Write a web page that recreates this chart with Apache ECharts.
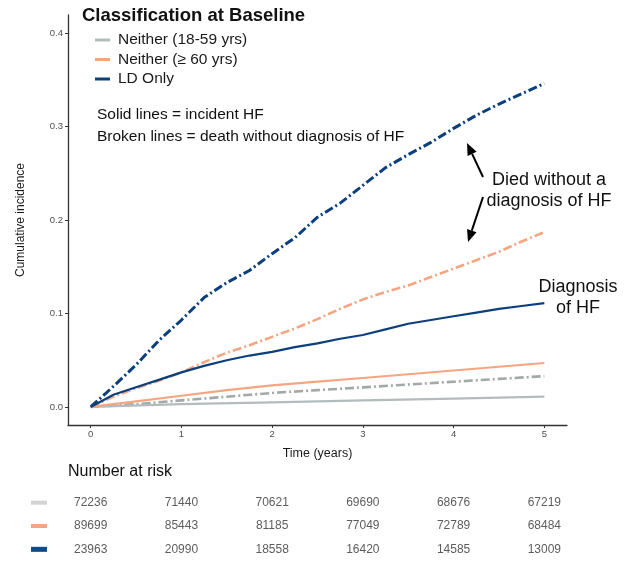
<!DOCTYPE html>
<html>
<head>
<meta charset="utf-8">
<script src="https://cdn.jsdelivr.net/npm/echarts@6/dist/echarts.min.js"></script>
<style>html,body{margin:0;padding:0;background:#fff}#c{width:626px;height:561px}</style>
</head>
<body>
<div id="c"></div>
<script>
// ---------- data ----------
const groups = ['Neither (18-59 yrs)', 'Neither (\u2265 60 yrs)', 'LD Only'];
const xTicks = [0, 1, 2, 3, 4, 5];
const yTicks = [0.0, 0.1, 0.2, 0.3, 0.4];

const tQuarter = [0,0.25,0.5,0.75,1,1.25,1.5,1.75,2,2.25,2.5,2.75,3,3.25,3.5,3.75,4,4.25,4.5,4.75,5];
const tHalf = [0,0.5,1,1.5,2,2.5,3,3.5,4,4.5,5];
const tYear = [0,1,2,3,4,5];

// LD Only
const ldDeath = [0,0.022,0.045,0.071,0.093,0.117,0.133,0.146,0.164,0.181,0.203,0.218,0.237,0.256,0.270,0.283,0.298,0.312,0.324,0.335,0.346];
const ldHF    = [0,0.013,0.021,0.029,0.037,0.044,0.050,0.055,0.059,0.064,0.068,0.073,0.077,0.083,0.089,0.093,0.097,0.101,0.105,0.108,0.111];
// Neither (>= 60 yrs)
const oldDeath = [0,0.011,0.020,0.028,0.037,0.048,0.058,0.066,0.075,0.084,0.094,0.105,0.115,0.123,0.130,0.139,0.148,0.157,0.166,0.177,0.187];
const oldHF    = [0,0.006,0.012,0.018,0.023,0.027,0.031,0.035,0.039,0.043,0.047];
// Neither (18-59 yrs)
const youngDeath = [0,0.003,0.007,0.011,0.015,0.018,0.021,0.024,0.027,0.030,0.033];
const youngHF    = [0,0.003,0.005,0.007,0.009,0.011];

// number at risk
const riskYoung = [72236,71440,70621,69690,68676,67219];
const riskOld   = [89699,85443,81185,77049,72789,68484];
const riskLD    = [23963,20990,18558,16420,14585,13009];

// ---------- styles ----------
const cGrayLine = '#b3bcbc', cGrayDash = '#a3a8a8', cSalmon = '#f4a582', cNavy = '#0c3f7e';
const swatch = ['#d3d3d3', '#f4a582', '#0b4a8c'];
const brokenType = [9, 3, 2, 3];
const font = 'Liberation Sans, Arial, sans-serif';

function pairs(t, v){ return t.map((x,i)=>[x, v[i]]); }

function arrow(x1,y1,x2,y2){
  const a = Math.atan2(y2-y1, x2-x1), L = 12, W = 5;
  const bx = x2 - L*Math.cos(a), by = y2 - L*Math.sin(a);
  const nx = -Math.sin(a), ny = Math.cos(a);
  return [
    {type:'line', shape:{x1:x1,y1:y1,x2:bx,y2:by}, style:{stroke:'#000', lineWidth:2}},
    {type:'polygon', shape:{points:[[x2,y2],[bx+W*nx,by+W*ny],[bx-W*nx,by-W*ny]]}, style:{fill:'#000'}}
  ];
}

const riskData = [];
[riskYoung, riskOld, riskLD].forEach((row, r) => row.forEach((v, i) => riskData.push([xTicks[i], r, v])));

function lineSeries(name, data, color, broken, width){
  return {
    name, type:'line', data, showSymbol:false, symbol:'none', smooth:false,
    xAxisIndex:0, yAxisIndex:0, z: broken ? 3 : 4,
    itemStyle:{color},
    lineStyle:{color, width, type: broken ? brokenType : 'solid', cap:'butt'},
    emphasis:{disabled:true}, animation:false
  };
}

const chart = echarts.init(document.getElementById('c'), null, {renderer:'canvas'});
chart.setOption({
  animation:false,
  backgroundColor:'#fff',
  textStyle:{fontFamily:font},
  grid:[
    {left:68, right:59, top:15, bottom:136},
    {left:68, right:59, top:491, height:71}
  ],
  xAxis:[
    {gridIndex:0, type:'value', min:-0.25, max:5.25,
     name:'Time (years)', nameLocation:'middle', nameGap:22,
     nameTextStyle:{fontSize:12.5, color:'#1a1a1a', fontFamily:font},
     axisLine:{onZero:false, lineStyle:{color:'#333', width:1.3}},
     axisTick:{customValues:xTicks, length:3, lineStyle:{color:'#333'}},
     axisLabel:{customValues:xTicks, fontSize:9.5, color:'#4d4d4d', margin:4, fontFamily:font},
     splitLine:{show:false}},
    {gridIndex:1, type:'value', min:-0.25, max:5.25, show:false}
  ],
  yAxis:[
    {gridIndex:0, type:'value', min:-0.0193, max:0.4193,
     name:'Cumulative incidence', nameLocation:'middle', nameGap:41,
     nameTextStyle:{fontSize:12, color:'#1a1a1a', fontFamily:font},
     axisLine:{show:true, onZero:false, lineStyle:{color:'#333', width:1.3}},
     axisTick:{show:true, customValues:yTicks, length:3, lineStyle:{color:'#333'}},
     axisLabel:{customValues:yTicks, fontSize:9.5, color:'#4d4d4d', margin:5, fontFamily:font,
       formatter:v=>v.toFixed(1)},
     splitLine:{show:false}},
    {gridIndex:1, type:'category', data:groups, inverse:true,
     axisLine:{show:false}, axisTick:{show:false}, splitLine:{show:false},
     axisLabel:{margin:21, formatter:(v,i)=>'{s'+i+'|}',
       rich:{
         s0:{backgroundColor:swatch[0], width:16, height:4},
         s1:{backgroundColor:swatch[1], width:16, height:4},
         s2:{backgroundColor:swatch[2], width:16, height:5}
       }}}
  ],
  legend:{
    orient:'vertical', left:95, top:32, padding:0, itemGap:3.5,
    itemWidth:15, itemHeight:3, selectedMode:false,
    textStyle:{fontSize:15.5, color:'#1a1a1a', lineHeight:16, fontFamily:font, padding:[0,0,0,3]},
    data:[
      {name:groups[0], icon:'rect', itemStyle:{color:cGrayLine}},
      {name:groups[1], icon:'rect', itemStyle:{color:cSalmon}},
      {name:groups[2], icon:'rect', itemStyle:{color:cNavy}}
    ]
  },
  series:[
    lineSeries(groups[0], pairs(tYear, youngHF), cGrayLine, false, 2.2),
    lineSeries(groups[1], pairs(tHalf, oldHF), cSalmon, false, 2.2),
    lineSeries(groups[2], pairs(tQuarter, ldHF), cNavy, false, 2.2),
    lineSeries(groups[0], pairs(tHalf, youngDeath), cGrayDash, true, 2.6),
    lineSeries(groups[1], pairs(tQuarter, oldDeath), cSalmon, true, 2.6),
    lineSeries(groups[2], pairs(tQuarter, ldDeath), cNavy, true, 3),
    {
      name:'risk', type:'scatter', xAxisIndex:1, yAxisIndex:1, data:riskData,
      symbolSize:1, itemStyle:{color:'transparent'}, silent:true,
      label:{show:true, position:'inside', formatter:p=>String(p.value[2]),
        fontSize:12, color:'#333', fontFamily:font}
    }
  ],
  graphic:[
    {type:'text', left:82, top:6, style:{text:'Classification at Baseline', font:'bold 18.5px '+font, fill:'#111'}},
    {type:'text', left:97, top:107, style:{text:'Solid lines = incident HF', font:'15.5px '+font, fill:'#111'}},
    {type:'text', left:97, top:129, style:{text:'Broken lines = death without diagnosis of HF', font:'15.5px '+font, fill:'#111'}},
    {type:'text', x:549, y:191, style:{text:'Died without a\ndiagnosis of HF', font:'18px '+font, fill:'#111', align:'center', verticalAlign:'middle', lineHeight:21}},
    {type:'text', x:578, y:298, style:{text:'Diagnosis\nof HF', font:'18px '+font, fill:'#111', align:'center', verticalAlign:'middle', lineHeight:21}},
    {type:'text', left:68, top:464, style:{text:'Number at risk', font:'16px '+font, fill:'#111'}},
    ...arrow(483,177,467,143),
    ...arrow(483,197,468,242)
  ]
});
</script>
</body>
</html>
